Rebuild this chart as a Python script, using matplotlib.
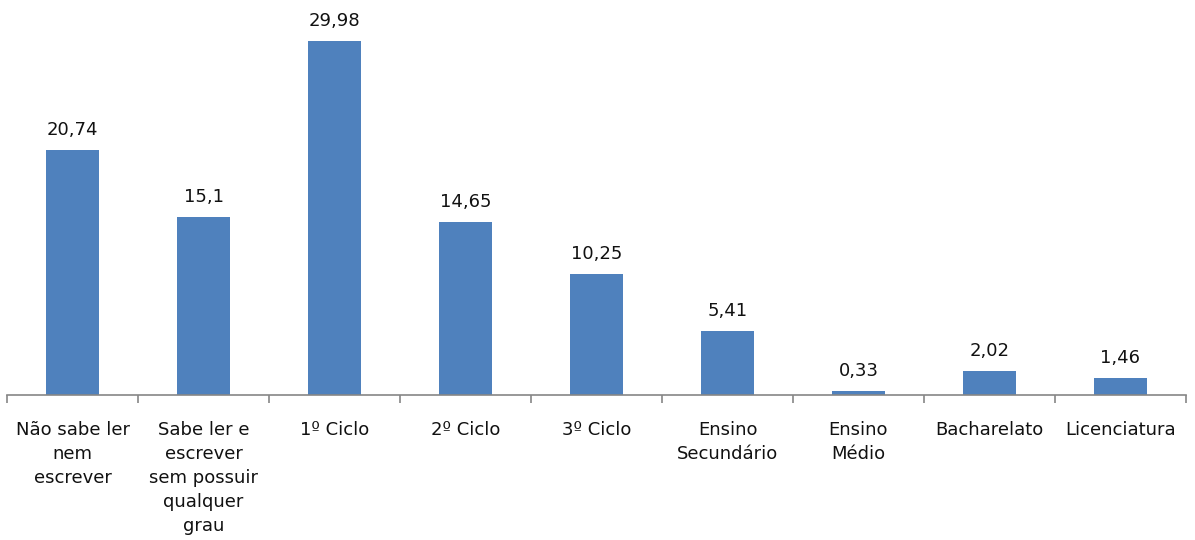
import matplotlib.pyplot as plt
import numpy as np

categorias = [
    "Não sabe ler\nnem\nescrever",
    "Sabe ler e\nescrever\nsem possuir\nqualquer\ngrau",
    "1º Ciclo",
    "2º Ciclo",
    "3º Ciclo",
    "Ensino\nSecundário",
    "Ensino\nMédio",
    "Bacharelato",
    "Licenciatura",
]
valores = [20.74, 15.1, 29.98, 14.65, 10.25, 5.41, 0.33, 2.02, 1.46]
rotulos = ["20,74", "15,1", "29,98", "14,65", "10,25", "5,41", "0,33", "2,02", "1,46"]

cor_barra = "#4F81BD"
cor_eixo = "#868686"

fig = plt.figure(figsize=(11.95, 5.4), dpi=100)
ax = fig.add_axes([7 / 1195, 1 - 395 / 540, (1186 - 7) / 1195, 354 / 540])

x = np.arange(len(categorias))
ax.bar(x, valores, width=0.4, color=cor_barra)

for xi, v, r in zip(x, valores, rotulos):
    ax.annotate(r, (xi, v), xytext=(0, 8), textcoords="offset points",
                ha="center", va="bottom", fontsize=13, color="#111111")

ax.set_xlim(-0.5, len(categorias) - 0.5)
ax.set_ylim(0, 30)

for s in ["top", "right", "left"]:
    ax.spines[s].set_visible(False)
ax.spines["bottom"].set_color(cor_eixo)
ax.spines["bottom"].set_linewidth(1.2)
ax.set_yticks([])

ax.set_xticks(x)
ax.set_xticklabels(categorias, fontsize=13, linespacing=1.43, color="#111111",
                   va="top")
ax.tick_params(axis="x", which="major", length=0, pad=19)
ax.set_xticks(np.arange(-0.5, len(categorias)), minor=True)
ax.tick_params(axis="x", which="minor", length=6, width=1.2, color=cor_eixo,
               direction="out")

fig.savefig("out.png", dpi=100)
